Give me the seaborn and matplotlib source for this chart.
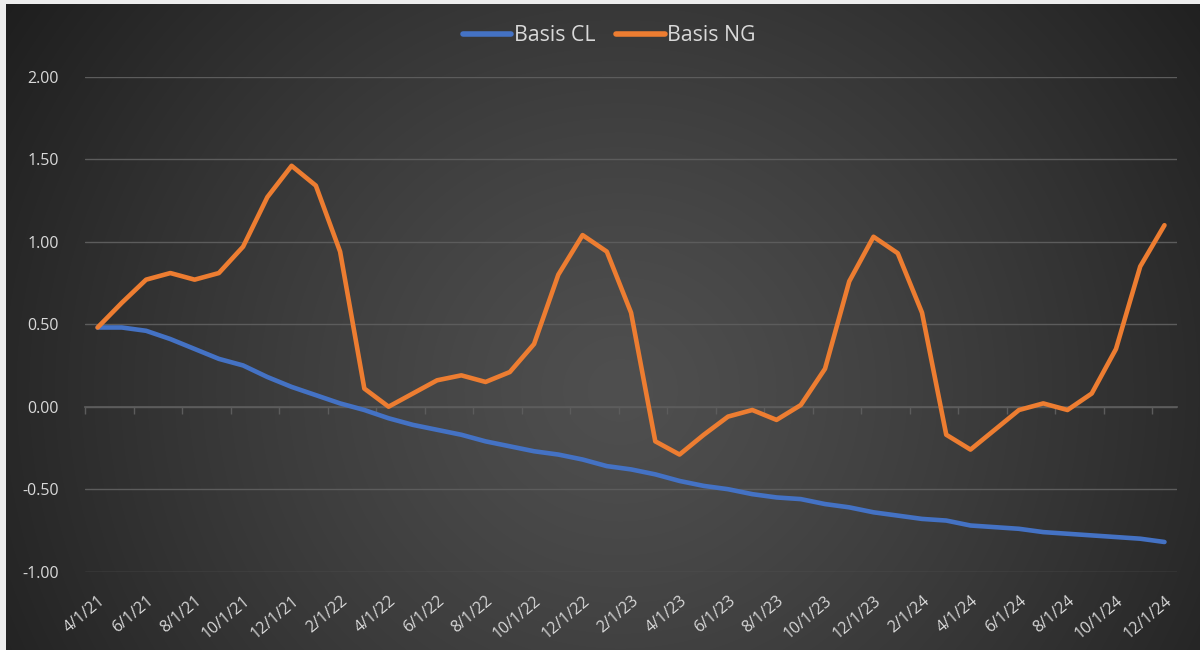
import numpy as np
import pandas as pd
import matplotlib
matplotlib.use("Agg")
import matplotlib.pyplot as plt
import seaborn as sns

months = ["4/1/21", "5/1/21", "6/1/21", "7/1/21", "8/1/21", "9/1/21", "10/1/21", "11/1/21", "12/1/21",
          "1/1/22", "2/1/22", "3/1/22", "4/1/22", "5/1/22", "6/1/22", "7/1/22", "8/1/22", "9/1/22",
          "10/1/22", "11/1/22", "12/1/22", "1/1/23", "2/1/23", "3/1/23", "4/1/23", "5/1/23", "6/1/23",
          "7/1/23", "8/1/23", "9/1/23", "10/1/23", "11/1/23", "12/1/23", "1/1/24", "2/1/24", "3/1/24",
          "4/1/24", "5/1/24", "6/1/24", "7/1/24", "8/1/24", "9/1/24", "10/1/24", "11/1/24", "12/1/24"]

basis_cl = [0.48, 0.48, 0.46, 0.41, 0.35, 0.29, 0.25, 0.18, 0.12, 0.07, 0.02, -0.02, -0.07, -0.11, -0.14,
            -0.17, -0.21, -0.24, -0.27, -0.29, -0.32, -0.36, -0.38, -0.41, -0.45, -0.48, -0.50, -0.53,
            -0.55, -0.56, -0.59, -0.61, -0.64, -0.66, -0.68, -0.69, -0.72, -0.73, -0.74, -0.76, -0.77,
            -0.78, -0.79, -0.80, -0.82]

basis_ng = [0.48, 0.63, 0.77, 0.81, 0.77, 0.81, 0.97, 1.27, 1.46, 1.34, 0.94, 0.11, 0.00, 0.08, 0.16,
            0.19, 0.15, 0.21, 0.38, 0.80, 1.04, 0.94, 0.57, -0.21, -0.29, -0.17, -0.06, -0.02, -0.08,
            0.01, 0.23, 0.76, 1.03, 0.93, 0.57, -0.17, -0.26, -0.14, -0.02, 0.02, -0.02, 0.08, 0.35,
            0.85, 1.10]

series_names = ["Basis CL", "Basis NG"]
colors = ["#4472C4", "#ED7D31"]
y_ticks = [-1.0, -0.5, 0.0, 0.5, 1.0, 1.5, 2.0]

sns.set_theme(style="dark")
plt.rcParams["font.family"] = ["Open Sans", "DejaVu Sans"]

n = len(months)
df = pd.DataFrame({
    "idx": list(range(n)) * 2,
    "value": basis_cl + basis_ng,
    "series": [series_names[0]] * n + [series_names[1]] * n,
})

fig = plt.figure(figsize=(12, 6.5), dpi=100)

# radial gradient background
bg = fig.add_axes([0, 0, 1, 1], zorder=0)
H, W = 650, 1200
yy, xx = np.mgrid[0:H, 0:W]
cx, cy = 620, 390
r = np.sqrt((xx - cx) ** 2 + ((yy - cy) / 0.95) ** 2)
t = np.clip(r / 740.0, 0, 1)
val = 79 - (79 - 30) * t ** 1.25
img = np.dstack([val, val, val]) / 255.0
img[0:4, :, :] = 0.93
img[:, 0:6, :] = 0.93
bg.imshow(img, aspect="auto", extent=[0, 1, 0, 1], origin="upper")
bg.set_axis_off()

ax = fig.add_axes([85.5 / 1200, 1 - 571.7 / 650, (1176.6 - 85.5) / 1200, (571.7 - 76.7) / 650], zorder=1)
ax.set_facecolor("none")

grid_color = "#5c5c5c"
for yv in y_ticks:
    ax.axhline(yv, color=grid_color, lw=1.0, zorder=1)

sns.lineplot(data=df, x="idx", y="value", hue="series", palette=colors, linewidth=3.3,
             ax=ax, legend=True, zorder=3)

ax.set_xlim(-0.5, n - 0.5)
ax.set_ylim(-1.0, 2.0)
ax.set_yticks(y_ticks)
ax.set_yticklabels([f"{v:.2f}" for v in y_ticks], color="#d9d9d9", fontsize=11.5)
ax.set_xticks(list(range(0, n, 2)))
ax.set_xticklabels(months[::2], rotation=40, ha="right", rotation_mode="anchor",
                   color="#d9d9d9", fontsize=11.5)
ax.tick_params(axis="x", length=0, pad=15)
ax.tick_params(axis="y", length=0, pad=19)
ax.set_xlabel("")
ax.set_ylabel("")
for s in ax.spines.values():
    s.set_visible(False)
ax.grid(False)

# category axis crossing at zero with tick marks between categories
sec = ax.secondary_xaxis(1.0 / 3.0)
sec.set_xticks([b - 0.5 for b in range(0, n + 1, 2)])
sec.set_xticklabels([])
sec.tick_params(axis="x", direction="out", length=5, color=grid_color, width=1)
sec.spines["bottom"].set_visible(True)
sec.spines["bottom"].set_color(grid_color)
sec.spines["top"].set_visible(False)

leg = ax.legend(loc="upper center", bbox_to_anchor=(0.48, 1 + 0.143), ncol=2, frameon=False,
                fontsize=15.3, handlelength=2.3, handletextpad=0.1, columnspacing=1.0)
for txt in leg.get_texts():
    txt.set_color("#d9d9d9")
for line in leg.get_lines():
    line.set_linewidth(4)

fig.savefig("out.png", dpi=100)
